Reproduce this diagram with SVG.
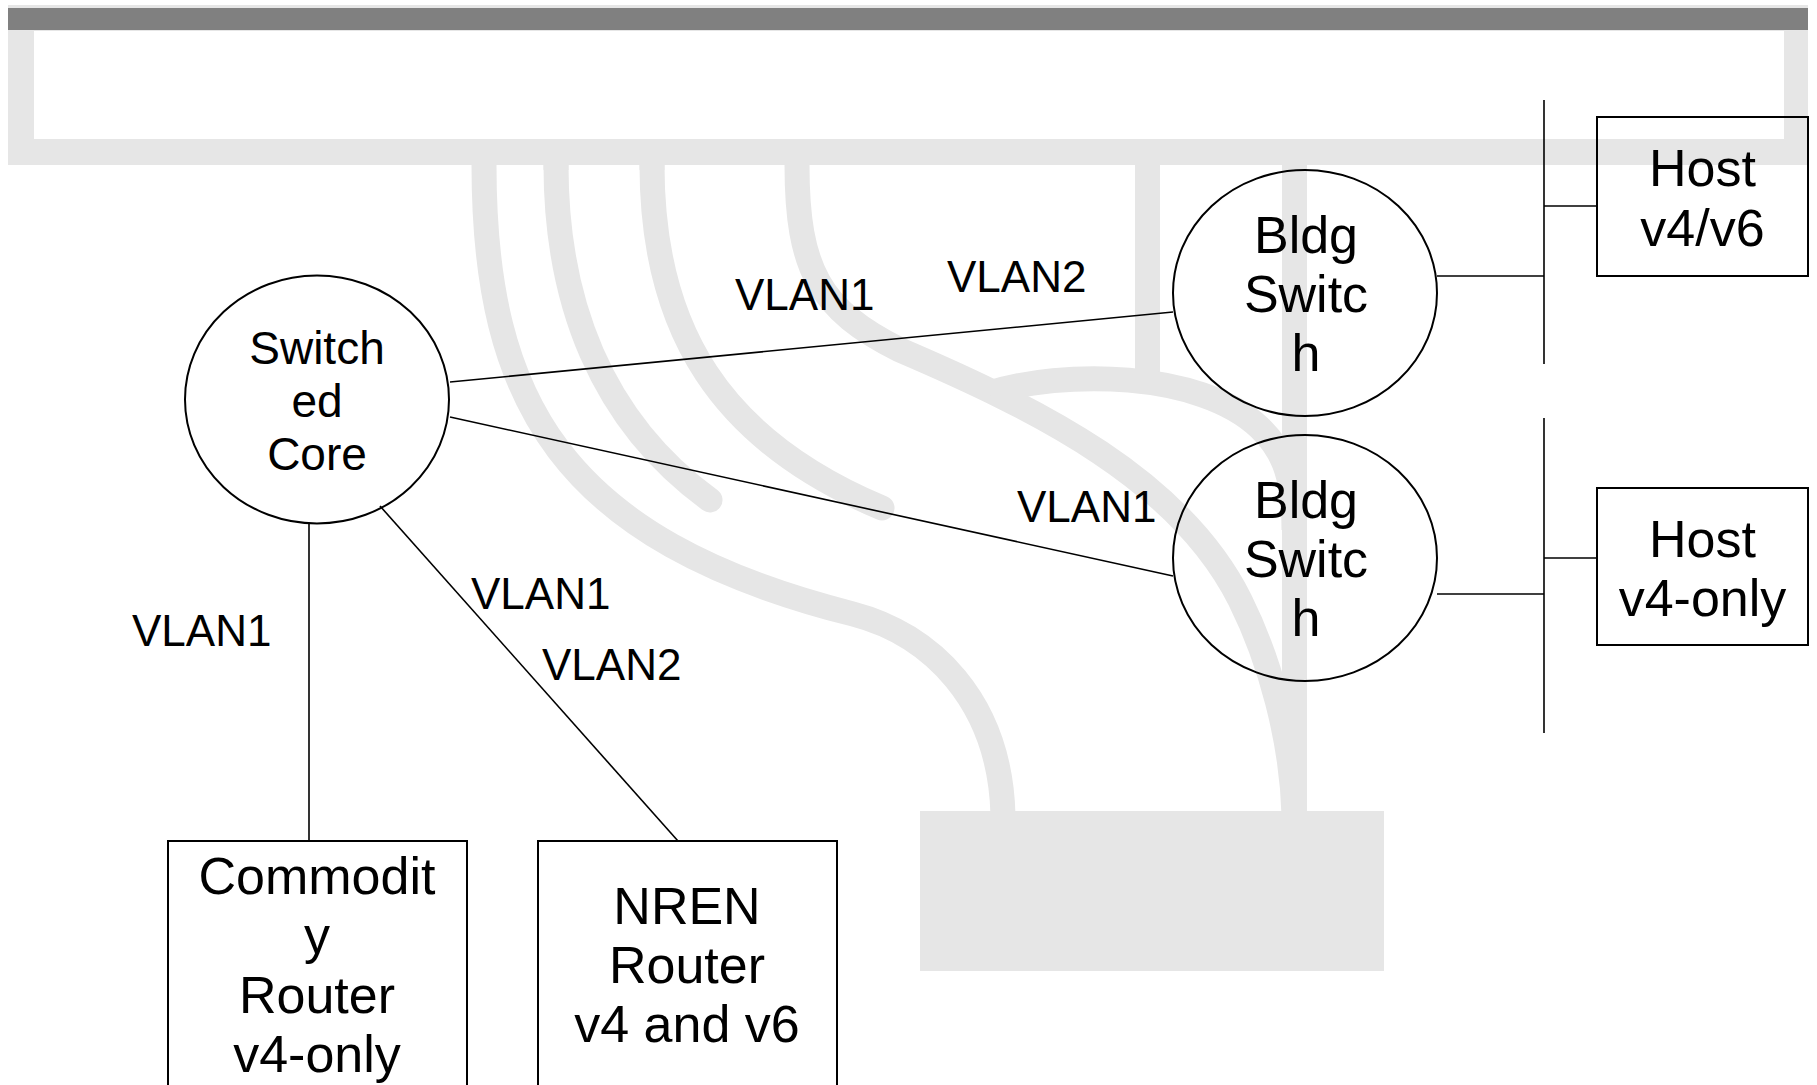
<svg xmlns="http://www.w3.org/2000/svg" width="1817" height="1085" viewBox="0 0 1817 1085">
<style>
.bg{fill:#e6e6e6}
.band{fill:none;stroke:#e6e6e6;stroke-width:25}
.rc{stroke-linecap:round}
.shape{fill:none;stroke:#000;stroke-width:2}
.ln{stroke:#000;stroke-width:1.6;fill:none}
text{font-family:"Liberation Sans",Arial,sans-serif;fill:#000}
.node{font-size:52px;text-anchor:middle}
.core{font-size:46px;text-anchor:middle}
.lbl{font-size:44px}
</style>
<rect width="1817" height="1085" fill="#fff"/>
<g id="background">
<rect class="bg" x="8" y="5" width="1800" height="160"/>
<rect x="34" y="31" width="1750" height="108" fill="#fff"/>
<rect x="8" y="8" width="1800" height="22" fill="#808080"/>
<path class="band" d="M484,150 L484,165 C484,400 560,540 853,614 C930,634 1000,700 1003,815"/>
<path class="band rc" d="M556,165 L556,165 C556,300 600,420 710,500"/>
<path class="band" d="M556,150 L556,170"/>
<path class="band rc" d="M652,165 C652,330 720,440 882,508"/>
<path class="band" d="M652,150 L652,170"/>
<path class="band" d="M797,150 L797,165 C797,270 820,310 900,350 C1040,410 1180,480 1240,600 C1270,660 1292,740 1294,815"/>
<path class="band" d="M1147.5,150 L1147.5,382"/>
<path class="band" d="M990,393 C1060,370 1200,370 1260,428 C1285,452 1294,480 1294,530"/>
<path class="band" d="M1294.5,150 L1294.5,815"/>
<rect class="bg" x="920" y="811" width="464" height="160"/>
</g>
<g id="connectors">
<line class="ln" x1="450" y1="382" x2="1173" y2="312"/>
<line class="ln" x1="450" y1="417" x2="1173" y2="576"/>
<line class="ln" x1="309" y1="523" x2="309" y2="841"/>
<line class="ln" x1="380" y1="506" x2="678" y2="841"/>
<line class="ln" x1="1437" y1="276" x2="1544" y2="276"/>
<line class="ln" x1="1544" y1="206" x2="1597" y2="206"/>
<line class="ln" x1="1544" y1="100" x2="1544" y2="364"/>
<line class="ln" x1="1437" y1="594" x2="1544" y2="594"/>
<line class="ln" x1="1544" y1="558" x2="1597" y2="558"/>
<line class="ln" x1="1544" y1="418" x2="1544" y2="733"/>
<text class="lbl" x="735" y="310">VLAN1</text>
<text class="lbl" x="947" y="292">VLAN2</text>
<text class="lbl" x="1017" y="522">VLAN1</text>
<text class="lbl" x="471" y="609">VLAN1</text>
<text class="lbl" x="542" y="680">VLAN2</text>
<text class="lbl" x="132" y="646">VLAN1</text>
</g>
<g id="switched-core">
<ellipse class="shape" cx="317" cy="399.5" rx="132" ry="124"/>
<text class="core" x="317" y="364">Switch</text>
<text class="core" x="317" y="417">ed</text>
<text class="core" x="317" y="470">Core</text>
</g>
<g id="bldg-switch-1">
<ellipse class="shape" cx="1305" cy="293" rx="132" ry="123"/>
<text class="node" x="1306" y="253">Bldg</text>
<text class="node" x="1306" y="312">Switc</text>
<text class="node" x="1306" y="371">h</text>
</g>
<g id="bldg-switch-2">
<ellipse class="shape" cx="1305" cy="558" rx="132" ry="123"/>
<text class="node" x="1306" y="518">Bldg</text>
<text class="node" x="1306" y="577">Switc</text>
<text class="node" x="1306" y="636">h</text>
</g>
<g id="host-v4v6">
<rect class="shape" x="1597" y="117" width="211" height="159"/>
<text class="node" x="1702.5" y="186">Host</text>
<text class="node" x="1702.5" y="246">v4/v6</text>
</g>
<g id="host-v4only">
<rect class="shape" x="1597" y="488" width="211" height="157"/>
<text class="node" x="1702.5" y="557">Host</text>
<text class="node" x="1702.5" y="616">v4-only</text>
</g>
<g id="commodity-router">
<rect class="shape" x="168" y="841" width="299" height="260"/>
<text class="node" x="317" y="894">Commodit</text>
<text class="node" x="317" y="953">y</text>
<text class="node" x="317" y="1013">Router</text>
<text class="node" x="317" y="1072">v4-only</text>
</g>
<g id="nren-router">
<rect class="shape" x="538" y="841" width="299" height="260"/>
<text class="node" x="687" y="924">NREN</text>
<text class="node" x="687" y="983">Router</text>
<text class="node" x="687" y="1042">v4 and v6</text>
</g>
</svg>
